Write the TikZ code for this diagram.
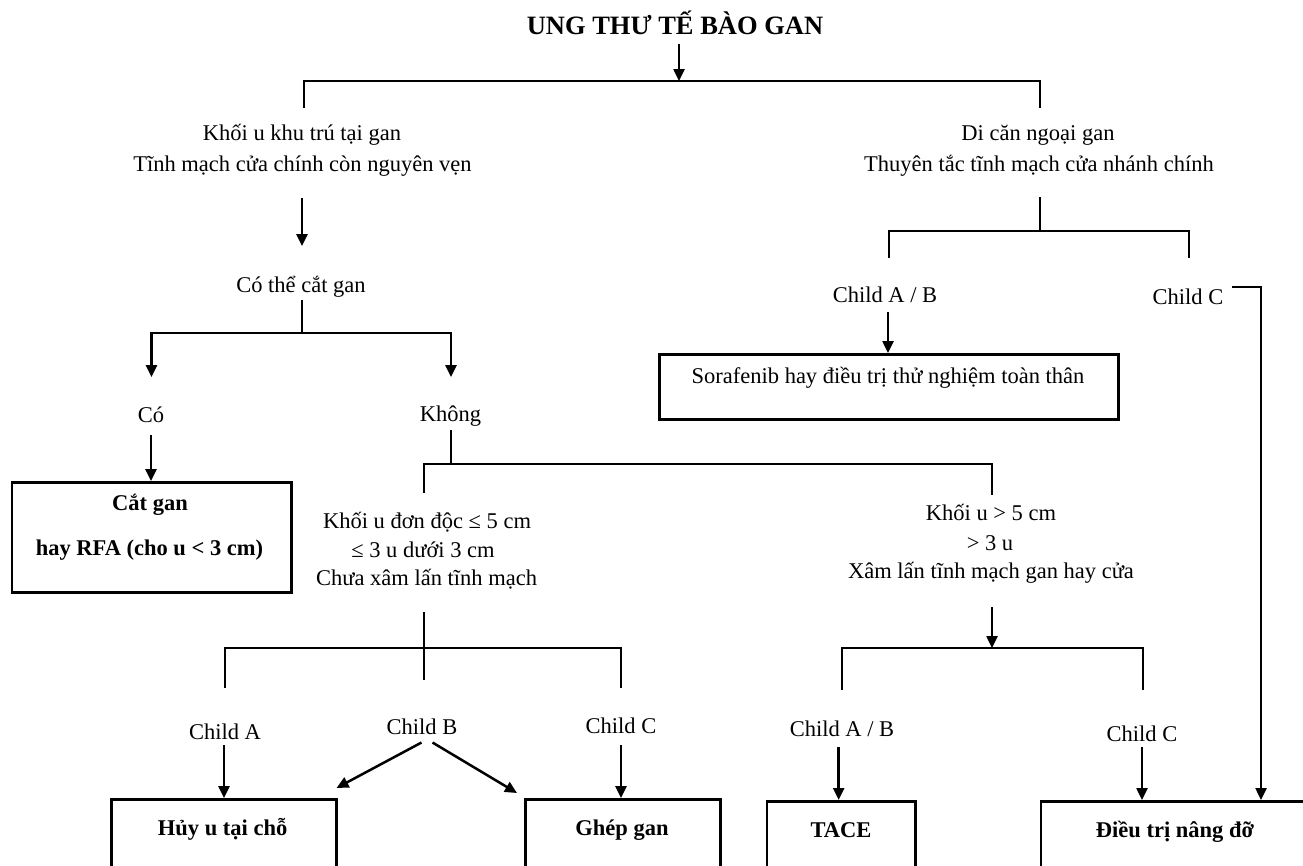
\documentclass[tikz,border=0pt]{standalone}
\usepackage{fontspec}
\setmainfont{Liberation Serif}
\usetikzlibrary{arrows.meta}
\tikzset{
  lbl/.style={anchor=base, inner sep=0pt, font=\fontsize{22.5}{27}\selectfont},
  bold/.style={anchor=base, inner sep=0pt, font=\fontsize{22.5}{27}\selectfont\bfseries},
  ttl/.style={anchor=base, inner sep=0pt, font=\fontsize{26.5}{32}\selectfont\bfseries},
  wire/.style={line width=2.5pt},
  arr/.style={line width=2.5pt, -{Triangle[length=12pt,width=11pt]}},
  box/.style={draw, line width=2.5pt, inner sep=0pt, anchor=north west},
}
\begin{document}
\begin{tikzpicture}[x=1pt,y=-1pt]
\clip (0,0) rectangle (1303,865);
\fill[white] (0,0) rectangle (1303,865);

% ---------- texts ----------
\node[ttl] (title) at (675,34) {UNG THƯ TẾ BÀO GAN};
\node[lbl] (loc1) at (302,140.5) {Khối u khu trú tại gan};
\node[lbl] (loc2) at (302.5,171) {Tĩnh mạch cửa chính còn nguyên vẹn};
\node[lbl] (met1) at (1038,140.5) {Di căn ngoại gan};
\node[lbl] (met2) at (1039,171) {Thuyên tắc tĩnh mạch cửa nhánh chính};
\node[lbl] (resq) at (301,292) {Có thể cắt gan};
\node[lbl] (yes) at (151,422) {Có};
\node[lbl] (no) at (450.5,421) {Không};
\node[lbl] (mab) at (885,302) {Child A / B};
\node[lbl] (mc) at (1188,304) {Child C};
\node[lbl] (sol1) at (427,528) {Khối u đơn độc ≤ 5 cm};
\node[lbl] (sol2) at (423,557) {≤ 3 u dưới 3 cm};
\node[lbl] (sol3) at (426.6,585) {Chưa xâm lấn tĩnh mạch};
\node[lbl] (big1) at (991,520) {Khối u > 5 cm};
\node[lbl] (big2) at (990,550) {> 3 u};
\node[lbl] (big3) at (991,578) {Xâm lấn tĩnh mạch gan hay cửa};
\node[lbl] (sa) at (225,739) {Child A};
\node[lbl] (sb) at (422,734) {Child B};
\node[lbl] (sc) at (621,733) {Child C};
\node[lbl] (bab) at (842,736) {Child A / B};
\node[lbl] (bc) at (1142,741) {Child C};

% ---------- boxes ----------
\node[box, minimum width=459, minimum height=65] (sora) at (658,353) {};
\node[lbl] (soratxt) at (888,383) {Sorafenib hay điều trị thử nghiệm toàn thân};
\node[box, minimum width=279.5, minimum height=110] (resect) at (10.5,481) {};
\node[bold] (resect1) at (150,510) {Cắt gan};
\node[bold] (resect2) at (149.5,555) {hay RFA (cho u < 3 cm)};
\node[box, minimum width=225.4, minimum height=100] (abl) at (110,798) {};
\node[bold] (abltxt) at (222.6,835) {Hủy u tại chỗ};
\node[box, minimum width=195, minimum height=100] (olt) at (524,798) {};
\node[bold] (olttxt) at (622,835) {Ghép gan};
\node[box, minimum width=148.4, minimum height=100] (tace) at (765.6,800) {};
\node[bold] (tacetxt) at (841,837) {TACE};
\node[box, minimum width=290, minimum height=100] (bsc) at (1039.6,800) {};
\node[bold] (bsctxt) at (1175,837) {Điều trị nâng đỡ};

% ---------- junction points ----------
\coordinate (t0) at (679,44);   \coordinate (t1) at (679,81);
\coordinate (tl) at (304,108);  \coordinate (tr) at (1040,108);
\coordinate (la0) at (302,198); \coordinate (la1) at (302,246);
\coordinate (r0) at (302,300);  \coordinate (r1) at (302,333);
\coordinate (ry) at (151.5,377); \coordinate (rn) at (451,377);
\coordinate (y0) at (151,435);  \coordinate (y1) at (151,481);
\coordinate (n0) at (451,430);  \coordinate (n1) at (451,464);
\coordinate (ns) at (424,493);  \coordinate (nb) at (992,495);
\coordinate (m0) at (1040,197); \coordinate (m1) at (1040,231);
\coordinate (mla) at (889,258); \coordinate (mlc) at (1189,258);
\coordinate (ma0) at (888,312); \coordinate (ma1) at (888,353);
\coordinate (mc0) at (1232,287); \coordinate (mc1) at (1261,287);
\coordinate (mc2) at (1261,800);
\coordinate (s0) at (424,612);  \coordinate (s1) at (424,680);
\coordinate (sj) at (424,648);
\coordinate (sal) at (225,688); \coordinate (scl) at (621,688);
\coordinate (sa0) at (224,745); \coordinate (sa1) at (224,798);
\coordinate (sb0) at (421.5,742.5); \coordinate (sb1) at (336.5,788);
\coordinate (sb2) at (432.5,742.5); \coordinate (sb3) at (517,793);
\coordinate (sc0) at (621,745); \coordinate (sc1) at (621,798);
\coordinate (b0) at (992,607);  \coordinate (b1) at (992,648);
\coordinate (bal) at (842,690); \coordinate (bcl) at (1143,690);
\coordinate (ba0) at (838.7,747); \coordinate (ba1) at (838.7,800);
\coordinate (bc0) at (1142,747); \coordinate (bc1) at (1142,800);

% ---------- connectors ----------
\draw[arr] (t0) -- (t1);
\draw[wire] (tl) |- (t1) -| (tr);
\draw[arr] (la0) -- (la1);
\draw[wire] (r0) -- (r1);
\draw[arr] (r1) -| (ry);
\draw[arr] (r1) -| (rn);
\draw[arr] (y0) -- (y1);
\draw[wire] (n0) -- (n1);
\draw[wire] (ns) |- (n1) -| (nb);
\draw[wire] (m0) -- (m1);
\draw[wire] (mla) |- (m1) -| (mlc);
\draw[arr] (ma0) -- (ma1);
\draw[arr] (mc0) -- (mc1) -- (mc2);
\draw[wire] (s0) -- (s1);
\draw[wire] (sal) |- (sj) -| (scl);
\draw[arr] (sa0) -- (sa1);
\draw[arr] (sb0) -- (sb1);
\draw[arr] (sb2) -- (sb3);
\draw[arr] (sc0) -- (sc1);
\draw[arr] (b0) -- (b1);
\draw[wire] (bal) |- (b1) -| (bcl);
\draw[arr] (ba0) -- (ba1);
\draw[arr] (bc0) -- (bc1);
\end{tikzpicture}
\end{document}
